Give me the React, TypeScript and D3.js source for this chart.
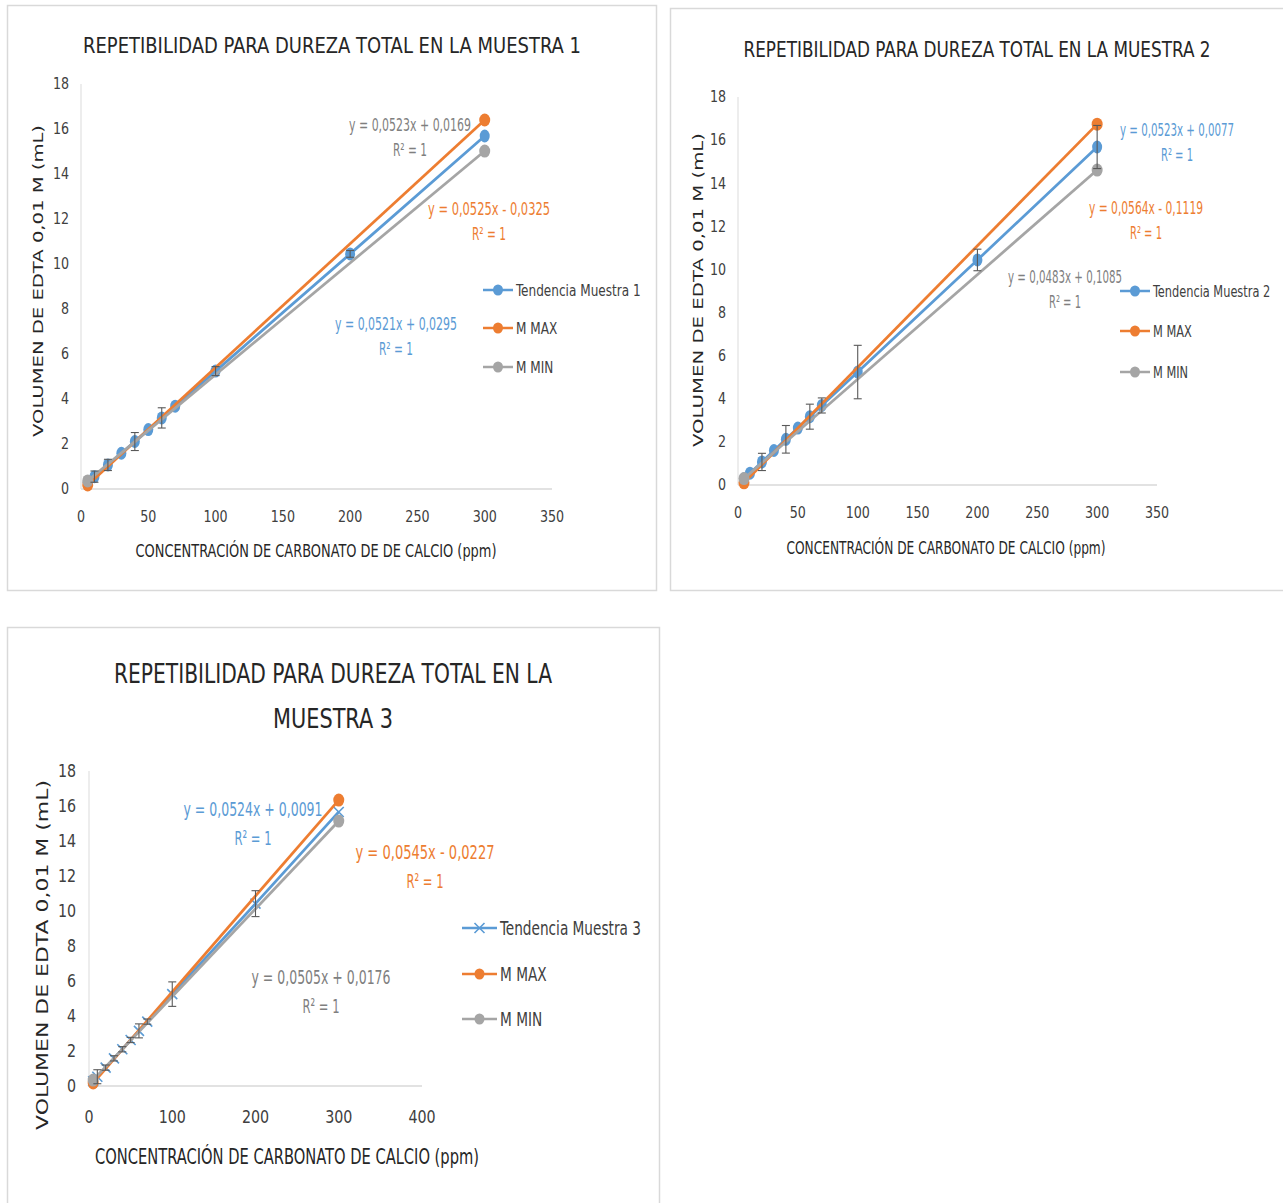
import React from "react";
import * as d3 from "d3";

// concentraciones (ppm) usadas en las tres muestras
const X_VALUES = [5, 10, 20, 30, 40, 50, 60, 70, 100, 200, 300];
const X_ENDS = [5, 300];

// Muestra 1
const M1_TENDENCIA = [0.29, 0.55, 1.07, 1.59, 2.11, 2.64, 3.16, 3.68, 5.24, 10.45, 15.69];
const M1_ERROR = [0, 0.25, 0.25, 0, 0.4, 0, 0.45, 0, 0.2, 0.15, 0];
const M1_MAX = [0.18, 16.4];
const M1_MIN = [0.36, 15.02];
const M1_EQ = ["y = 0,0521x + 0,0295", "y = 0,0525x - 0,0325", "y = 0,0523x + 0,0169"];

// Muestra 2
const M2_TENDENCIA = [0.29, 0.55, 1.07, 1.6, 2.12, 2.64, 3.17, 3.69, 5.24, 10.44, 15.68];
const M2_ERROR = [0, 0, 0.4, 0, 0.64, 0, 0.58, 0.35, 1.24, 0.5, 1.0];
const M2_MAX = [0.1, 16.74];
const M2_MIN = [0.3, 14.61];
const M2_EQ = ["y = 0,0523x + 0,0077", "y = 0,0564x - 0,1119", "y = 0,0483x + 0,1085"];

// Muestra 3
const M3_TENDENCIA = [0.27, 0.53, 1.05, 1.58, 2.1, 2.63, 3.15, 3.68, 5.25, 10.42, 15.66];
const M3_ERROR = [0, 0.4, 0.15, 0.15, 0.15, 0.15, 0.4, 0.15, 0.7, 0.74, 0];
const M3_MAX = [0.17, 16.34];
const M3_MIN = [0.34, 15.14];
const M3_EQ = ["y = 0,0524x + 0,0091", "y = 0,0545x - 0,0227", "y = 0,0505x + 0,0176"];

const X_TICKS_350 = [0, 50, 100, 150, 200, 250, 300, 350];
const X_TICKS_400 = [0, 100, 200, 300, 400];
const Y_TICKS = [0, 2, 4, 6, 8, 10, 12, 14, 16, 18];

const Y_LABEL = "VOLUMEN DE EDTA 0,01 M (mL)";
const R2 = "R² = 1";

const BLUE = "#5B9BD5";
const ORANGE = "#ED7D31";
const GRAY = "#A5A5A5";
const EQ_COLORS = [BLUE, ORANGE, "#7F7F7F"];
const NARROW = "'Liberation Sans Narrow', 'DejaVu Sans Condensed', Arial, sans-serif";

const charts = [
  {
    panel: [7, 5, 649, 585],
    xDom: 350, xRange: [81, 552], yRange: [489, 84],
    xTicks: X_TICKS_350,
    tickSize: 16, xTickY: 517, yTickX: 69,
    title: [{ text: "REPETIBILIDAD PARA DUREZA TOTAL EN LA MUESTRA 1", x: 332, y: 45, len: 498 }],
    titleSize: 22,
    xLabel: { text: "CONCENTRACIÓN DE CARBONATO DE DE CALCIO (ppm)", x: 316, y: 550, len: 361, size: 18 },
    yLabel: { x: 38, y: 281, len: 312, size: 14 },
    tend: M1_TENDENCIA, err: M1_ERROR, max: M1_MAX, min: M1_MIN, cross: false,
    legendName: "Tendencia Muestra 1",
    eq: M1_EQ,
    eqPos: [[396, 324], [489, 209], [410, 125]], eqSize: 17, eqGap: 25, eqLen: 122, r2Len: 34,
    legend: { x0: 483, x1: 513, ys: [290, 328, 367], size: 16, sx: 0.84 },
  },
  {
    panel: [670, 8, 620, 582],
    xDom: 350, xRange: [738, 1157], yRange: [485, 97],
    xTicks: X_TICKS_350,
    tickSize: 16, xTickY: 513, yTickX: 726,
    title: [{ text: "REPETIBILIDAD PARA DUREZA TOTAL EN LA MUESTRA 2", x: 977, y: 50, len: 467 }],
    titleSize: 21,
    xLabel: { text: "CONCENTRACIÓN DE CARBONATO DE CALCIO (ppm)", x: 946, y: 548, len: 319, size: 17 },
    yLabel: { x: 698, y: 290, len: 314, size: 14 },
    tend: M2_TENDENCIA, err: M2_ERROR, max: M2_MAX, min: M2_MIN, cross: false,
    legendName: "Tendencia Muestra 2",
    eq: M2_EQ,
    eqPos: [[1177, 130], [1146, 208], [1065, 277]], eqSize: 17, eqGap: 25, eqLen: 114, r2Len: 32,
    legend: { x0: 1120, x1: 1150, ys: [291, 331, 372], size: 16, sx: 0.79 },
  },
  {
    panel: [7, 627, 652, 590],
    xDom: 400, xRange: [89, 422], yRange: [1086, 771],
    xTicks: X_TICKS_400,
    tickSize: 18, xTickY: 1117, yTickX: 76,
    title: [
      { text: "REPETIBILIDAD PARA DUREZA TOTAL EN LA", x: 333, y: 673, len: 438 },
      { text: "MUESTRA 3", x: 333, y: 718, len: 120 },
    ],
    titleSize: 27,
    xLabel: { text: "CONCENTRACIÓN DE CARBONATO DE CALCIO (ppm)", x: 287, y: 1157, len: 384, size: 21 },
    yLabel: { x: 42, y: 955, len: 350, size: 16 },
    tend: M3_TENDENCIA, err: M3_ERROR, max: M3_MAX, min: M3_MIN, cross: true,
    legendName: "Tendencia Muestra 3",
    eq: M3_EQ,
    eqPos: [[253, 809], [425, 852], [321, 977]], eqSize: 20, eqGap: 29, eqLen: 139, r2Len: 37,
    legend: { x0: 462, x1: 497, ys: [928, 974, 1019], size: 19, sx: 0.8 },
  },
];

// texto condensado horizontalmente alrededor de su punto de anclaje
function NText({ x, y, sx = 0.88, size, fill, anchor = "start", children }: any) {
  return (
    <text transform={`translate(${x},${y}) scale(${sx},1)`} textAnchor={anchor} dominantBaseline="central"
      fontFamily={NARROW} fontSize={size} fill={fill}>{children}</text>
  );
}

function Cross({ x, y, s = 5 }: { x: number; y: number; s?: number }) {
  return (
    <path d={`M${x - s},${y - s}L${x + s},${y + s}M${x - s},${y + s}L${x + s},${y - s}`}
      stroke={BLUE} strokeWidth={1.6} fill="none" />
  );
}

function Chart({ c }: { c: any }) {
  const x = d3.scaleLinear().domain([0, c.xDom]).range(c.xRange);
  const y = d3.scaleLinear().domain([0, 18]).range(c.yRange);
  const line = d3.line<[number, number]>().x(d => x(d[0])).y(d => y(d[1]));
  const tendPts = X_VALUES.map((v, i) => [v, c.tend[i]] as [number, number]);
  const maxPts = X_ENDS.map((v, i) => [v, c.max[i]] as [number, number]);
  const minPts = X_ENDS.map((v, i) => [v, c.min[i]] as [number, number]);
  const [px, py, pw, ph] = c.panel;
  const lg = c.legend;
  const legendItems = [
    { name: c.legendName, color: BLUE, cross: c.cross },
    { name: "M MAX", color: ORANGE, cross: false },
    { name: "M MIN", color: GRAY, cross: false },
  ];

  return (
    <g>
      <rect x={px + 0.5} y={py + 0.5} width={pw} height={ph} fill="#fff" stroke="#d9d9d9" strokeWidth={1.5} />
      {c.title.map((t: any, i: number) => (
        <text key={i} x={t.x} y={t.y} textAnchor="middle" dominantBaseline="central"
          fontFamily={NARROW} fontSize={c.titleSize} fill="#262626"
          textLength={t.len} lengthAdjust="spacingAndGlyphs">{t.text}</text>
      ))}
      {/* axes */}
      <line x1={x(0)} x2={x(c.xDom)} y1={y(0)} y2={y(0)} stroke="#d9d9d9" strokeWidth={1.3} />
      <line x1={x(0)} x2={x(0)} y1={y(0)} y2={y(18)} stroke="#e4e4e4" strokeWidth={1.3} />
      {c.xTicks.map((t: number) => (
        <NText key={"x" + t} x={x(t)} y={c.xTickY} anchor="middle" size={c.tickSize} fill="#404040">{t}</NText>
      ))}
      {Y_TICKS.map(t => (
        <NText key={"y" + t} x={c.yTickX} y={y(t)} anchor="end" size={c.tickSize} fill="#404040">{t}</NText>
      ))}
      <text x={c.xLabel.x} y={c.xLabel.y} textAnchor="middle" dominantBaseline="central"
        fontFamily={NARROW} fontSize={c.xLabel.size} fill="#262626"
        textLength={c.xLabel.len} lengthAdjust="spacingAndGlyphs">{c.xLabel.text}</text>
      <text transform={`translate(${c.yLabel.x},${c.yLabel.y}) rotate(-90)`} textAnchor="middle"
        dominantBaseline="central" fontFamily="'DejaVu Sans', Arial, sans-serif" fontSize={c.yLabel.size}
        fill="#262626" textLength={c.yLabel.len} lengthAdjust="spacingAndGlyphs">{Y_LABEL}</text>

      {/* series */}
      <path d={line(tendPts) || ""} fill="none" stroke={BLUE} strokeWidth={2.75} />
      {tendPts.map((p, i) => c.cross
        ? <Cross key={i} x={x(p[0])} y={y(p[1])} />
        : <ellipse key={i} cx={x(p[0])} cy={y(p[1])} rx={5} ry={6.5} fill={BLUE} />)}
      <path d={line(maxPts) || ""} fill="none" stroke={ORANGE} strokeWidth={2.75} />
      {maxPts.map((p, i) => <ellipse key={i} cx={x(p[0])} cy={y(p[1])} rx={5.5} ry={6.5} fill={ORANGE} />)}
      <path d={line(minPts) || ""} fill="none" stroke={GRAY} strokeWidth={2.75} />
      {minPts.map((p, i) => <ellipse key={i} cx={x(p[0])} cy={y(p[1])} rx={5.5} ry={6.5} fill={GRAY} />)}

      {/* error bars */}
      {tendPts.map((p, i) => {
        const e = c.err[i];
        if (!e) return null;
        const cx = x(p[0]);
        const y1 = y(p[1] + e), y2 = y(p[1] - e);
        return (
          <g key={"e" + i} stroke="#595959" strokeWidth={1.1}>
            <line x1={cx} x2={cx} y1={y1} y2={y2} />
            <line x1={cx - 4} x2={cx + 4} y1={y1} y2={y1} />
            <line x1={cx - 4} x2={cx + 4} y1={y2} y2={y2} />
          </g>
        );
      })}

      {/* trend equations */}
      {c.eq.map((t: string, i: number) => (
        <g key={"eq" + i} fontFamily={NARROW} fontSize={c.eqSize} fill={EQ_COLORS[i]} textAnchor="middle">
          <text x={c.eqPos[i][0]} y={c.eqPos[i][1]} dominantBaseline="central"
            textLength={c.eqLen} lengthAdjust="spacingAndGlyphs">{t}</text>
          <text x={c.eqPos[i][0]} y={c.eqPos[i][1] + c.eqGap} dominantBaseline="central"
            textLength={c.r2Len} lengthAdjust="spacingAndGlyphs">{R2}</text>
        </g>
      ))}

      {/* legend */}
      {legendItems.map((it, i) => {
        const ly = lg.ys[i];
        const mx = (lg.x0 + lg.x1) / 2;
        return (
          <g key={"lg" + i}>
            <line x1={lg.x0} x2={lg.x1} y1={ly} y2={ly} stroke={it.color} strokeWidth={2.5} />
            {it.cross
              ? <Cross x={mx} y={ly} s={5} />
              : <ellipse cx={mx} cy={ly} rx={5} ry={5.5} fill={it.color} />}
            <NText x={lg.x1 + 3} y={ly} sx={lg.sx} size={lg.size} fill="#404040">{it.name}</NText>
          </g>
        );
      })}
    </g>
  );
}

export default function App() {
  return (
    <svg width={1283} height={1203} style={{ position: "absolute", left: 0, top: 0, background: "#fff" }}>
      <rect width={1283} height={1203} fill="#fff" />
      {charts.map((c, i) => <Chart key={i} c={c} />)}
    </svg>
  );
}
